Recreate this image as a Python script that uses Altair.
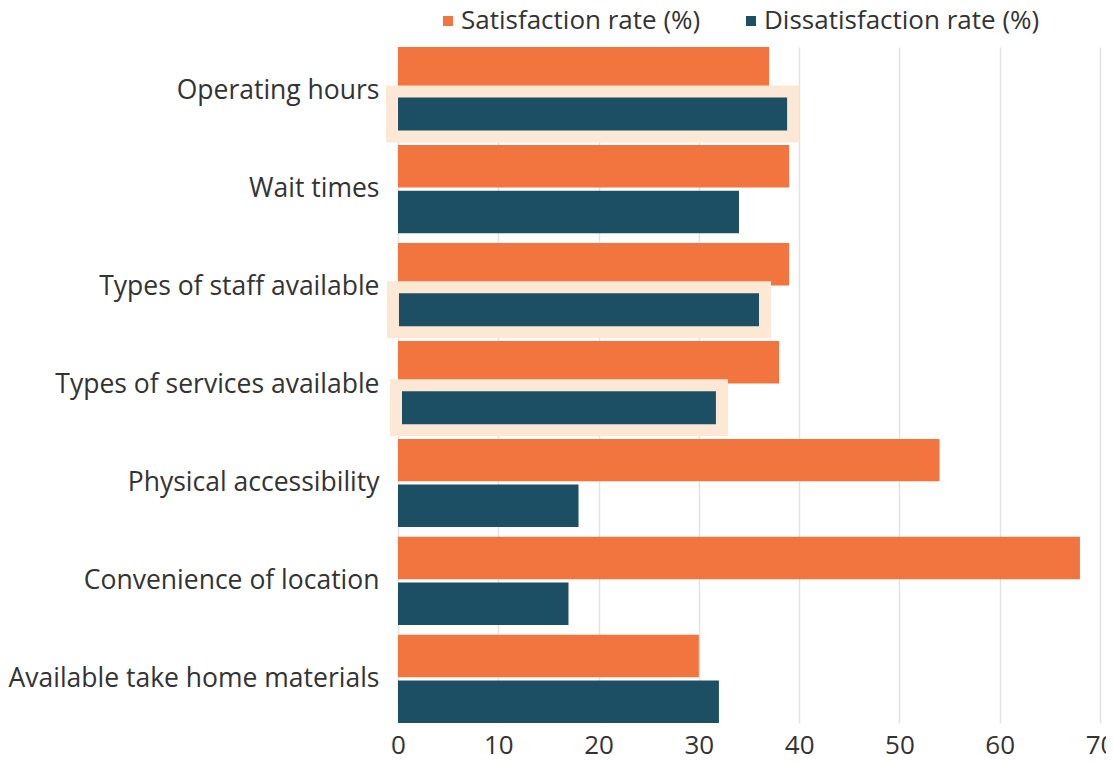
import altair as alt
import pandas as pd

categories = [
    "Operating hours",
    "Wait times",
    "Types of staff available",
    "Types of services available",
    "Physical accessibility",
    "Convenience of location",
    "Available take home materials",
]
satisfaction = [37, 39, 39, 38, 54, 68, 30]
dissatisfaction = [39, 34, 36, 32, 18, 17, 32]
series = ["Satisfaction rate (%)", "Dissatisfaction rate (%)"]
colors = ["#F2743F", "#1D4F64"]
x_ticks = [0, 10, 20, 30, 40, 50, 60, 70]

highlight_categories = ["Operating hours", "Types of staff available", "Types of services available"]
highlight_start = [-0.6, -0.5, -0.2]
highlight_end = [39.4, 36.6, 32.3]

rows = []
for c, s, d in zip(categories, satisfaction, dissatisfaction):
    rows.append({"category": c, "series": series[0], "value": s})
    rows.append({"category": c, "series": series[1], "value": d})
df = pd.DataFrame(rows)

hl = pd.DataFrame({
    "category": highlight_categories,
    "series": [series[1]] * len(highlight_categories),
    "x0": highlight_start,
    "x1": highlight_end,
})

FONT = "Open Sans"
TXT = "#333333"

y_enc = alt.Y(
    "category:N",
    sort=categories,
    scale=alt.Scale(domain=categories, paddingInner=0.1, paddingOuter=0),
    axis=alt.Axis(
        title=None, domain=False, ticks=False, grid=False,
        labelFont=FONT, labelFontSize=26.5, labelColor=TXT,
        labelPadding=19, labelLimit=600,
    ),
)
yoff_enc = alt.YOffset(
    "series:N",
    scale=alt.Scale(domain=series, paddingInner=0.07, paddingOuter=0),
)

bars = alt.Chart(df).mark_bar().encode(
    y=y_enc,
    yOffset=yoff_enc,
    x=alt.X(
        "value:Q",
        scale=alt.Scale(domain=[0, 70], nice=False),
        axis=alt.Axis(
            title=None, values=x_ticks, domain=False, ticks=False,
            grid=True, gridColor="#E3E3E3", gridWidth=1.5,
            labelFont=FONT, labelFontSize=26, labelColor=TXT,
            labelPadding=9, labelFlush=False,
        ),
    ),
    color=alt.Color(
        "series:N",
        scale=alt.Scale(domain=series, range=colors),
        legend=alt.Legend(
            title=None, orient="none", direction="horizontal",
            legendX=37, legendY=-39,
            symbolType="square", symbolSize=100, symbolStrokeWidth=0,
            labelFont=FONT, labelFontSize=26, labelColor=TXT,
            labelOffset=0, columnPadding=37, labelLimit=600,
        ),
    ),
)

rings = alt.Chart(hl).mark_bar(
    fillOpacity=0, stroke="#FDE8D6", strokeWidth=12, height=45
).encode(
    y=y_enc,
    yOffset=yoff_enc,
    x=alt.X("x0:Q"),
    x2="x1:Q",
)

chart = alt.layer(bars, rings).properties(
    width=702, height=676,
    autosize=alt.AutoSizeParams(type="none"),
    padding={"left": 390, "top": 39, "right": 6, "bottom": 40},
).configure_view(stroke=None)

chart.save("out.html", embed_options={"renderer": "svg", "actions": False})
